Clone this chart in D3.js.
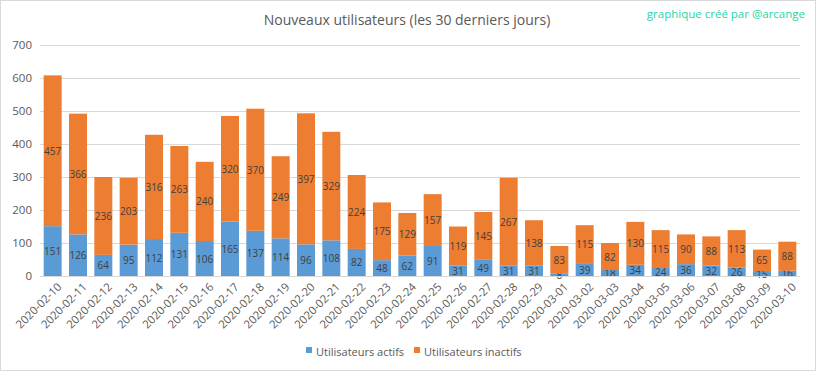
<!DOCTYPE html>
<html lang="fr">
<head>
<meta charset="UTF-8">
<title>Nouveaux utilisateurs</title>
<script src="https://d3js.org/d3.v7.min.js"></script>
<style>
  body { margin: 0; background: #fff; }
  text { font-family: "Open Sans", "Noto Sans", sans-serif; }
</style>
</head>
<body>
<div id="chart"></div>
<script>
var dates = ["2020-02-10","2020-02-11","2020-02-12","2020-02-13","2020-02-14","2020-02-15","2020-02-16",
  "2020-02-17","2020-02-18","2020-02-19","2020-02-20","2020-02-21","2020-02-22","2020-02-23","2020-02-24",
  "2020-02-25","2020-02-26","2020-02-27","2020-02-28","2020-02-29","2020-03-01","2020-03-02","2020-03-03",
  "2020-03-04","2020-03-05","2020-03-06","2020-03-07","2020-03-08","2020-03-09","2020-03-10"];
var actifs = [151,126,64,95,112,131,106,165,137,114,96,108,82,48,62,91,31,49,31,31,8,39,18,34,24,36,32,26,15,16];
var inactifs = [457,366,236,203,316,263,240,320,370,249,397,329,224,175,129,157,119,145,267,138,83,115,82,130,115,90,88,113,65,88];
var yTicks = [0,100,200,300,400,500,600,700];
var seriesNames = ["Utilisateurs actifs", "Utilisateurs inactifs"];
var colors = ["#5B9BD5", "#ED7D31"];

var W = 816, H = 371;
var margin = {top: 45, right: 16, bottom: 95, left: 40};

var svg = d3.select("#chart").append("svg")
    .attr("width", W).attr("height", H);

// chart border
svg.append("rect")
    .attr("x", 0.5).attr("y", 0.5)
    .attr("width", W - 1).attr("height", H - 1)
    .attr("fill", "#fff").attr("stroke", "#d9d9d9");

var x = d3.scaleBand()
    .domain(dates)
    .range([margin.left, W - margin.right])
    .paddingInner(0.29)
    .paddingOuter(0.145);

var y = d3.scaleLinear()
    .domain([0, 700])
    .range([H - margin.bottom, margin.top]);

// gridlines
svg.append("g")
    .selectAll("line")
    .data(yTicks)
    .enter().append("line")
    .attr("x1", margin.left).attr("x2", W - margin.right)
    .attr("y1", function(d) { return Math.round(y(d)) + 0.5; })
    .attr("y2", function(d) { return Math.round(y(d)) + 0.5; })
    .attr("stroke", "#d9d9d9");

// y axis labels
var yAxis = svg.append("g")
    .attr("transform", "translate(" + margin.left + ",0)")
    .call(d3.axisLeft(y).tickValues(yTicks).tickSize(0).tickPadding(8));
yAxis.select(".domain").remove();
yAxis.selectAll("text").attr("fill", "#595959").style("font-size", "11.5px");

var rows = dates.map(function(d, i) { return {date: d, actifs: actifs[i], inactifs: inactifs[i]}; });
var stacked = d3.stack().keys(["actifs", "inactifs"])(rows);

var layers = svg.append("g").selectAll("g")
    .data(stacked)
    .enter().append("g")
    .attr("fill", function(d, i) { return colors[i]; });

layers.selectAll("rect")
    .data(function(d) { return d; })
    .enter().append("rect")
    .attr("x", function(d) { return x(d.data.date); })
    .attr("y", function(d) { return y(d[1]); })
    .attr("width", x.bandwidth())
    .attr("height", function(d) { return y(d[0]) - y(d[1]); });

// value labels
layers.selectAll("text")
    .data(function(d) { return d; })
    .enter().append("text")
    .attr("x", function(d) { return x(d.data.date) + x.bandwidth() / 2; })
    .attr("y", function(d) { return (y(d[0]) + y(d[1])) / 2 + 4; })
    .attr("text-anchor", "middle")
    .attr("fill", "#404040")
    .style("font-size", "10px")
    .text(function(d) { return d[1] - d[0]; });

// x axis baseline
svg.append("line")
    .attr("x1", margin.left).attr("x2", W - margin.right)
    .attr("y1", Math.round(y(0)) + 0.5).attr("y2", Math.round(y(0)) + 0.5)
    .attr("stroke", "#d9d9d9");

// x axis labels
var xAxis = svg.append("g")
    .attr("transform", "translate(0," + (y(0) + 6) + ")")
    .call(d3.axisBottom(x).tickSize(0).tickPadding(0));
xAxis.select(".domain").remove();
xAxis.selectAll("text")
    .attr("fill", "#595959")
    .style("font-size", "11.3px")
    .attr("text-anchor", "end")
    .attr("dy", "0.7em")
    .attr("transform", "translate(4,0) rotate(-45)");

// title
svg.append("text")
    .attr("x", 407).attr("y", 25)
    .attr("text-anchor", "middle")
    .attr("fill", "#595959")
    .style("font-size", "14px")
    .text("Nouveaux utilisateurs (les 30 derniers jours)");

// watermark
svg.append("text")
    .attr("x", 805).attr("y", 18)
    .attr("text-anchor", "end")
    .attr("fill", "#1ED6A8")
    .style("font-size", "11.5px")
    .text("graphique créé par @arcange");

// legend
var legendX = [306, 414];
var legend = svg.append("g").selectAll("g")
    .data(seriesNames)
    .enter().append("g")
    .attr("transform", function(d, i) { return "translate(" + legendX[i] + ",352)"; });
legend.append("rect")
    .attr("x", 0).attr("y", -5)
    .attr("width", 6).attr("height", 6)
    .attr("fill", function(d, i) { return colors[i]; });
legend.append("text")
    .attr("x", 10).attr("y", 4)
    .attr("fill", "#595959")
    .style("font-size", "11px")
    .text(function(d) { return d; });
</script>
</body>
</html>
